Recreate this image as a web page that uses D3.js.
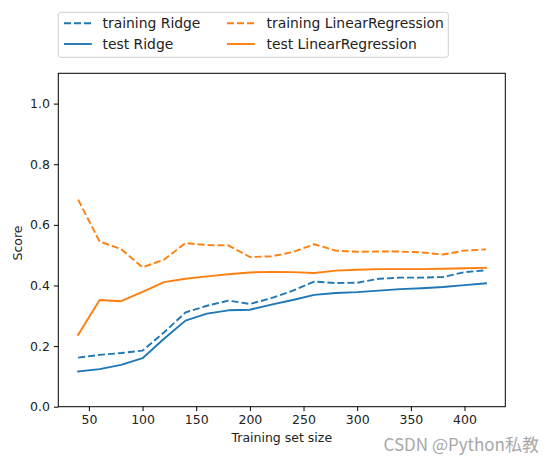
<!DOCTYPE html>
<html>
<head>
<meta charset="utf-8">
<script src="https://cdn.jsdelivr.net/npm/d3@7"></script>
<style>
  html, body { margin: 0; padding: 0; background: #fff; }
  svg { display: block; font-family: "DejaVu Sans", sans-serif; }
</style>
</head>
<body>
<svg id="chart" width="552" height="460"></svg>
<script>
// ---- data ----
const trainSizes = [40, 60, 80, 100, 120, 140, 160, 180, 200, 220, 240, 260, 280, 300, 320, 340, 360, 380, 400, 420];
const trainingRidge = [0.162, 0.171, 0.177, 0.185, 0.245, 0.311, 0.333, 0.350, 0.339, 0.358, 0.383, 0.413, 0.408, 0.409, 0.422, 0.426, 0.426, 0.428, 0.444, 0.450];
const testRidge = [0.116, 0.124, 0.138, 0.160, 0.224, 0.284, 0.307, 0.318, 0.320, 0.337, 0.352, 0.369, 0.375, 0.378, 0.383, 0.388, 0.391, 0.395, 0.401, 0.407];
const trainingLR = [0.683, 0.545, 0.520, 0.460, 0.485, 0.540, 0.533, 0.532, 0.494, 0.496, 0.510, 0.536, 0.515, 0.511, 0.512, 0.512, 0.509, 0.502, 0.515, 0.519];
const testLR = [0.237, 0.352, 0.348, 0.379, 0.411, 0.422, 0.430, 0.437, 0.443, 0.445, 0.444, 0.441, 0.449, 0.452, 0.454, 0.454, 0.454, 0.455, 0.457, 0.458];
const xTicks = [50, 100, 150, 200, 250, 300, 350, 400];
const yTicks = [0.0, 0.2, 0.4, 0.6, 0.8, 1.0];
const seriesNames = ["training Ridge", "test Ridge", "training LinearRegression", "test LinearRegression"];

const blue = "#1f77b4", orange = "#ff7f0e";
const series = [
  { name: seriesNames[0], values: trainingRidge, color: blue, dash: "7,3" },
  { name: seriesNames[1], values: testRidge, color: blue, dash: null },
  { name: seriesNames[2], values: trainingLR, color: orange, dash: "7,3" },
  { name: seriesNames[3], values: testLR, color: orange, dash: null }
];

const svg = d3.select("#chart");
const L = 58.3, R = 505.3, T = 73.3, B = 406.7;

const x = d3.scaleLinear().domain([21.5, 438]).range([L, R]);
const y = d3.scaleLinear().domain([0, 1.1]).range([B, T]);

svg.append("rect").attr("width", 552).attr("height", 460).attr("fill", "#fff");

// lines
const line = d3.line().x((d, i) => x(trainSizes[i])).y(d => y(d));
const gLines = svg.append("g");
series.forEach(s => {
  gLines.append("path")
    .attr("d", line(s.values))
    .attr("fill", "none")
    .attr("stroke", s.color)
    .attr("stroke-width", 1.9)
    .attr("stroke-dasharray", s.dash)
    .attr("stroke-linejoin", "round")
    .attr("stroke-linecap", s.dash ? "butt" : "square");
});

// axes
const xAxis = d3.axisBottom(x).tickValues(xTicks).tickSize(4.4).tickPadding(4).tickFormat(d3.format("d"));
const yAxis = d3.axisLeft(y).tickValues(yTicks).tickSize(4.4).tickPadding(4).tickFormat(d3.format(".1f"));

const gx = svg.append("g").attr("transform", `translate(0,${B})`).call(xAxis);
const gy = svg.append("g").attr("transform", `translate(${L},0)`).call(yAxis);
[gx, gy].forEach(g => {
  g.select(".domain").remove();
  g.selectAll(".tick line").attr("stroke", "#000").attr("stroke-width", 1);
  g.selectAll(".tick text").attr("fill", "#222").style("font-size", "12.5px").style("font-family", "DejaVu Sans");
});

// spines
svg.append("rect").attr("x", L).attr("y", T).attr("width", R - L).attr("height", B - T)
  .attr("fill", "none").attr("stroke", "#000").attr("stroke-width", 1);

// axis labels
svg.append("text").attr("x", (L + R) / 2).attr("y", 442)
  .attr("text-anchor", "middle").style("font-size", "12.5px").attr("fill", "#222")
  .text("Training set size");
svg.append("text").attr("transform", `translate(18,${(T + B) / 2 + 3}) rotate(-90)`)
  .attr("text-anchor", "middle").attr("dy", "0.35em").style("font-size", "12.5px").attr("fill", "#222")
  .text("Score");

// legend
const lg = svg.append("g");
lg.append("rect").attr("x", 58.3).attr("y", 12.3).attr("width", 390).attr("height", 45)
  .attr("rx", 2.5).attr("fill", "#fff").attr("fill-opacity", 0.8)
  .attr("stroke", "#d0d0d0").attr("stroke-width", 1);
const legendPos = [
  { s: series[0], lx: 64, tx: 102.5, cy: 23.3 },
  { s: series[1], lx: 64, tx: 102.5, cy: 44 },
  { s: series[2], lx: 227, tx: 266.5, cy: 23.3 },
  { s: series[3], lx: 227, tx: 266.5, cy: 44 }
];
legendPos.forEach(p => {
  lg.append("line").attr("x1", p.lx).attr("x2", p.lx + 27.8).attr("y1", p.cy).attr("y2", p.cy)
    .attr("stroke", p.s.color).attr("stroke-width", 1.9).attr("stroke-dasharray", p.s.dash);
  lg.append("text").attr("x", p.tx).attr("y", p.cy).attr("dy", "0.36em")
    .style("font-size", "13.9px").attr("fill", "#222").text(p.s.name);
});

// watermark
svg.append("text").attr("x", 539).attr("y", 445).attr("dy", "0.35em")
  .attr("text-anchor", "end")
  .style("font-family", "'Noto Sans CJK SC', 'Noto Sans', sans-serif")
  .style("font-size", "17px").attr("fill", "#a8a8a8")
  .text("CSDN @Python私教");
</script>
</body>
</html>
